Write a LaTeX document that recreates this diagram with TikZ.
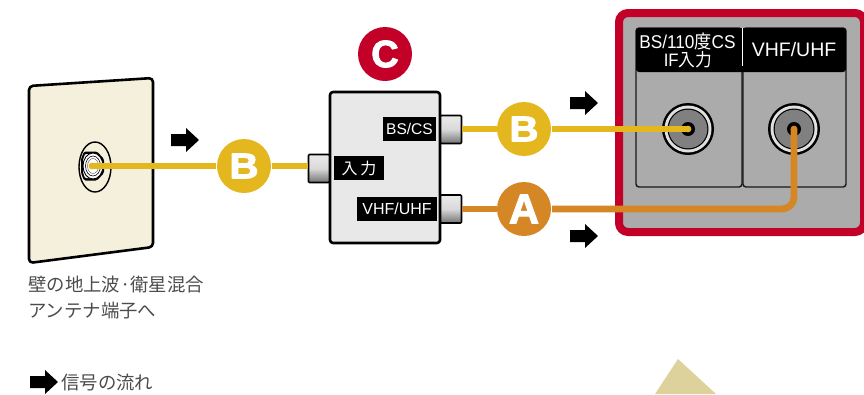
\documentclass[tikz,border=0pt]{standalone}
\usepackage{fontspec}
\usetikzlibrary{shapes.geometric}
\setmainfont{Noto Sans CJK JP}
\newfontfamily\latinf{Liberation Sans}
\newfontfamily\condf{Liberation Sans}[FakeStretch=0.93]
\newfontfamily\condj{Noto Sans CJK JP}[FakeStretch=0.93]
\newfontfamily\heavyf{Liberation Sans Bold}[FakeBold=2.5]
\begin{document}
\begin{tikzpicture}[x=1pt,y=-1pt,line join=round,
  jp/.style={font=\fontsize{18.4}{18.4}\selectfont,text=black!70,anchor=west,inner sep=0pt},
  tag/.style={fill=black,text=white,inner sep=0pt,minimum height=24pt,font=\latinf\fontsize{16}{16}\selectfont},
  hdr/.style={text=white,inner sep=0pt,align=center},
  plug/.style={draw=black,line width=1.6pt,rounded corners=1pt,top color=white!92!black,bottom color=black!55,middle color=black!15,minimum width=21pt,minimum height=28pt,inner sep=0pt},
  badge/.style={circle,minimum size=54pt,inner sep=0pt,text=white},
  wire/.style={line width=6.8pt},
  sigarrow/.style={fill=black,draw=none}]
\definecolor{yel}{HTML}{E5B71E}
\definecolor{org}{HTML}{D68725}
\definecolor{redc}{HTML}{C20028}
\definecolor{platec}{HTML}{F5F0DC}
\definecolor{tric}{HTML}{DDD29B}
\useasboundingbox (0,0) rectangle (864,394);
\clip (0,0) rectangle (864,394);
% triangle
\fill[tric] (678,359) -- (716,394) -- (655,394) -- cycle;
% tv panel
\draw[redc,line width=8pt,fill=black!33,rounded corners=9pt] (619,13) rectangle (864,232);
\draw[black!90,line width=1.4pt,rounded corners=3pt] (636,28) rectangle (742,187);
\draw[black!90,line width=1.4pt,rounded corners=3pt] (743,28) rectangle (846,187);
\path[fill=black,rounded corners=3pt] (636,72) -- (636,28) -- (846,28) -- (846,72) -- cycle;
\draw[white,line width=1pt] (742,28) -- (742,66);
\node[hdr,font=\condf\fontsize{18.5}{18.5}\selectfont] (h1) at (687.5,41) {BS/110{\condj 度}CS};
\node[hdr,font=\condf\fontsize{18}{18}\selectfont] (h1b) at (688,60) {IF{\condj 入力}};
\node[hdr,font=\latinf\fontsize{19.5}{19.5}\selectfont] (h2) at (794,50) {VHF/UHF};
% sockets
\foreach \n/\x in {s1/688,s2/794}{
  \node[circle,fill=black,minimum size=52pt,inner sep=0pt] (\n) at (\x,129) {};
  \fill[black!12] (\x,129) circle (23.5);
  \fill[black] (\x,129) circle (20.5);
  \fill[black!50] (\x,129) circle (19.3);
  \fill[black] (\x,129) circle (7);
}
% wall plate
\draw[black,line width=2.6pt,fill=platec,rounded corners=4pt] (29,86) -- (153,78) -- (153,247) -- (29,263) -- cycle;
% wall socket
\node[ellipse,draw=black,line width=1.4pt,minimum width=32pt,minimum height=50pt,inner sep=0pt] (ws) at (95,167) {};
\fill[black,rounded corners=1.5pt] (84,151.5) -- (97,151.5) -- (104,159) -- (104,173) -- (97,180.5) -- (84,180.5) -- (81,173) -- (81,159) -- cycle;
\fill[black!4,rounded corners=1pt] (85,154) -- (92,154) -- (92,178) -- (85,178) -- (83,172) -- (83,160) -- cycle;
\draw[black,line width=.9pt,fill=white] (93,166) ellipse (10 and 13);
\draw[black,line width=.6pt] (93,166) ellipse (7.5 and 10);
\draw[black!60,line width=.5pt] (93,166) ellipse (5.5 and 7.5);
% splitter
\node[draw=black,line width=2.6pt,fill=black!9,rounded corners=3pt,minimum width=110pt,minimum height=151pt,inner sep=0pt] (sp) at (385,167.5) {};
\node[plug] (pin) at (319,168.5) {};
\node[plug] (pbs) at (451,129.5) {};
\node[plug] (pvh) at (451,209) {};
\node[tag,minimum width=53pt,font=\latinf\fontsize{15.5}{15.5}\selectfont] (tbs) at (409.5,129) {BS/CS};
\node[tag,minimum width=50pt,font=\fontsize{16}{16}\selectfont] (tin) at (359,168) {入\,力};
\node[tag,minimum width=80pt] (tvh) at (397,209) {VHF/UHF};
% badges
\node[badge,fill=redc,font=\heavyf\fontsize{38}{38}\selectfont] (bc) at (385,54) {C};
\node[badge,fill=yel,font=\heavyf\fontsize{36}{36}\selectfont] (bb1) at (244,166) {\scalebox{1.12}[1]{B}};
\node[badge,fill=yel,font=\heavyf\fontsize{36}{36}\selectfont] (bb2) at (524,129) {\scalebox{1.12}[1]{B}};
\node[badge,fill=org,font=\heavyf\fontsize{42}{42}\selectfont] (ba) at (524,209) {A};
% wires
\coordinate (w1) at (92,166);
\coordinate (wl) at (272,166);
\coordinate (wb) at (497,129);
\coordinate (wbr) at (552,129);
\coordinate (wa) at (497,209);
\coordinate (war) at (552,209);
\fill[yel] (w1) circle (3.4);
\draw[yel,wire] (w1) -- (216,166);
\draw[yel,wire] (wl) -- (wl -| pin.west);
\draw[yel,wire] (wb -| pbs.east) -- (wb);
\draw[yel,wire] (wbr) -- (s1.center);
\fill[yel] (s1.center) circle (3.4);
\draw[org,wire] (wa -| pvh.east) -- (wa);
\draw[org,wire,rounded corners=12pt] (war) -- (war -| s2.center) -- (s2.center);
\fill[org] (s2.center) circle (3.4);
% flow arrows
\foreach \n/\x/\y in {a1/171/140,a2/570/103,a3/570/236,a4/30/382}{
  \fill[sigarrow] (\x,\y-6) -- (\x+15,\y-6) -- (\x+15,\y-12) -- (\x+28,\y) -- (\x+15,\y+12) -- (\x+15,\y+6) -- (\x,\y+6) -- cycle;
}
% texts
\node[jp] (t1) at (28,285) {壁の地上波·衛星混合};
\node[jp] (t2) at (28,311) {アンテナ端子へ};
\node[jp] (t3) at (61,383) {信号の流れ};
\end{tikzpicture}
\end{document}
